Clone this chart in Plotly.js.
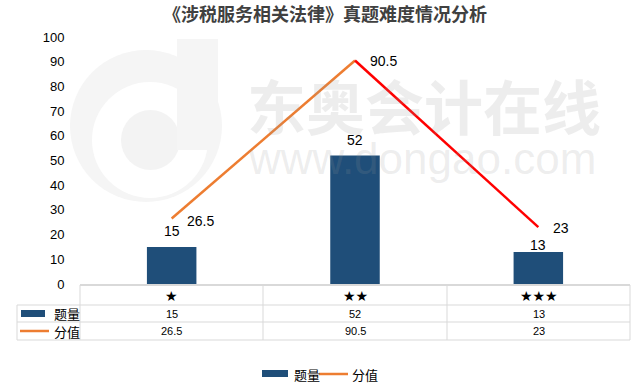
<!DOCTYPE html>
<html>
<head>
<meta charset="utf-8">
<script src="https://cdn.plot.ly/plotly-3.0.1.min.js"></script>
<style>html,body{margin:0;padding:0;background:#fff;}#chart{width:641px;height:387px;}</style>
</head>
<body>
<div id="chart"></div>
<script>
// ---- data ----
var categories = ['★', '★★', '★★★'];
var countLabel = '题量';
var scoreLabel = '分值';
var counts = [15, 52, 13];
var scores = [26.5, 90.5, 23];
var yTicks = [0, 10, 20, 30, 40, 50, 60, 70, 80, 90, 100];
var titleText = '《涉税服务相关法律》真题难度情况分析';

// ---- layout geometry (pixels) ----
var W = 641, H = 387;
var L = 80, R = 630, T = 37, B = 284;
function px(x) { return (x - L) / (R - L); }
function py(y) { return (B - y) / (B - T); }

var CN = '"Noto Sans CJK SC", "Noto Sans", sans-serif';
var NUM = '"Liberation Sans", Arial, sans-serif';
var blue = '#1F4E79', orange = '#ED7D31', red = '#FF0000', grid = '#D9D9D9';

var traces = [
  { type: 'bar', x: categories, y: counts, name: countLabel, marker: { color: blue }, width: 0.27, hoverinfo: 'skip' },
  { type: 'scatter', mode: 'lines', x: categories.slice(0, 2), y: scores.slice(0, 2), name: scoreLabel,
    line: { color: orange, width: 2.5 }, hoverinfo: 'skip' },
  { type: 'scatter', mode: 'lines', x: categories.slice(1, 3), y: scores.slice(1, 3), name: scoreLabel,
    line: { color: red, width: 2.5 }, hoverinfo: 'skip' }
];

var shapes = [];
var annotations = [];
var wm = 'rgba(150,150,150,0.17)';
// watermark logo
shapes.push({ type: 'circle', layer: 'below', xref: 'paper', yref: 'paper', x0: px(70), x1: px(222), y0: py(202), y1: py(50), fillcolor: '#F5F5F5', line: { width: 0 } });
shapes.push({ type: 'circle', layer: 'below', xref: 'paper', yref: 'paper', x0: px(92), x1: px(208), y0: py(198), y1: py(82), fillcolor: '#FFFFFF', line: { width: 0 } });
shapes.push({ type: 'circle', layer: 'below', xref: 'paper', yref: 'paper', x0: px(121), x1: px(180), y0: py(170), y1: py(110), fillcolor: '#F3F3F3', line: { width: 0 } });
shapes.push({ type: 'rect', layer: 'below', xref: 'paper', yref: 'paper', x0: px(177), x1: px(218), y0: py(150), y1: py(39), fillcolor: '#F5F5F5', line: { width: 0 } });
annotations.push({ xref: 'paper', yref: 'paper', x: px(424), y: py(104), text: '<b>东奥会计在线</b>', showarrow: false,
  font: { family: CN, size: 59, color: wm }, xanchor: 'center', yanchor: 'middle' });
annotations.push({ xref: 'paper', yref: 'paper', x: px(422), y: py(158), text: 'www.dongao.com', showarrow: false,
  font: { family: NUM, size: 44, color: wm }, xanchor: 'center', yanchor: 'middle' });

// data table
var colX = [L, 263, 447, R];
var rowY = [285, 305, 322, 340];
function hline(y, x0, x1, w) { shapes.push({ type: 'line', xref: 'paper', yref: 'paper', x0: px(x0), x1: px(x1), y0: py(y), y1: py(y), line: { color: grid, width: w } }); }
function vline(x, y0, y1) { shapes.push({ type: 'line', xref: 'paper', yref: 'paper', x0: px(x), x1: px(x), y0: py(y0), y1: py(y1), line: { color: grid, width: 1 } }); }
hline(rowY[0], L, R, 2);
hline(rowY[1], 17, R, 1);
hline(rowY[2], 17, R, 1);
hline(rowY[3], 17, R, 1);
colX.forEach(function (x) { vline(x, rowY[0], rowY[3]); });
vline(17, rowY[1], rowY[3]);
for (var i = 0; i < categories.length; i++) {
  var cx = (colX[i] + colX[i + 1]) / 2;
  annotations.push({ xref: 'paper', yref: 'paper', x: px(cx), y: py((rowY[0] + rowY[1]) / 2 + 1), text: categories[i], showarrow: false,
    font: { family: '"DejaVu Sans", sans-serif', size: 14, color: '#000' }, xanchor: 'center', yanchor: 'middle' });
  annotations.push({ xref: 'paper', yref: 'paper', x: px(cx), y: py((rowY[1] + rowY[2]) / 2), text: String(counts[i]), showarrow: false,
    font: { family: NUM, size: 11, color: '#000' }, xanchor: 'center', yanchor: 'middle' });
  annotations.push({ xref: 'paper', yref: 'paper', x: px(cx), y: py((rowY[2] + rowY[3]) / 2), text: String(scores[i]), showarrow: false,
    font: { family: NUM, size: 11, color: '#000' }, xanchor: 'center', yanchor: 'middle' });
}
// table row keys
shapes.push({ type: 'rect', xref: 'paper', yref: 'paper', x0: px(21), x1: px(45), y0: py(317), y1: py(310), fillcolor: blue, line: { width: 0 } });
shapes.push({ type: 'line', xref: 'paper', yref: 'paper', x0: px(20), x1: px(49), y0: py(331), y1: py(331), line: { color: orange, width: 2.5 } });
annotations.push({ xref: 'paper', yref: 'paper', x: px(52), y: py(313.5), text: countLabel, showarrow: false,
  font: { family: CN, size: 13, color: '#000' }, xanchor: 'left', yanchor: 'middle' });
annotations.push({ xref: 'paper', yref: 'paper', x: px(52), y: py(331), text: scoreLabel, showarrow: false,
  font: { family: CN, size: 13, color: '#000' }, xanchor: 'left', yanchor: 'middle' });

// bottom legend
shapes.push({ type: 'rect', xref: 'paper', yref: 'paper', x0: px(262), x1: px(288), y0: py(377), y1: py(370), fillcolor: blue, line: { width: 0 } });
shapes.push({ type: 'line', xref: 'paper', yref: 'paper', x0: px(319), x1: px(348), y0: py(374), y1: py(374), line: { color: orange, width: 2.5 } });
annotations.push({ xref: 'paper', yref: 'paper', x: px(292), y: py(374), text: countLabel, showarrow: false,
  font: { family: CN, size: 13, color: '#000' }, xanchor: 'left', yanchor: 'middle' });
annotations.push({ xref: 'paper', yref: 'paper', x: px(350), y: py(374), text: scoreLabel, showarrow: false,
  font: { family: CN, size: 13, color: '#000' }, xanchor: 'left', yanchor: 'middle' });

// data labels
var barShift = [16, 16, 7];
var lineDx = [29, 28, 23];
var lineDy = [-2, -1, -1];
for (var j = 0; j < categories.length; j++) {
  annotations.push({ x: categories[j], y: counts[j], xref: 'x', yref: 'y', text: String(counts[j]), showarrow: false,
    yshift: barShift[j], font: { family: NUM, size: 14, color: '#000' }, xanchor: 'center', yanchor: 'middle' });
  annotations.push({ x: categories[j], y: scores[j], xref: 'x', yref: 'y', text: String(scores[j]), showarrow: false,
    xshift: lineDx[j], yshift: lineDy[j], font: { family: NUM, size: 14, color: '#000' }, xanchor: 'center', yanchor: 'middle' });
}

var layout = {
  width: W, height: H,
  margin: { l: L, r: W - R, t: T, b: H - B, pad: 0 },
  paper_bgcolor: '#fff', plot_bgcolor: 'rgba(0,0,0,0)',
  showlegend: false,
  title: { text: titleText, x: 0.507, xanchor: 'center', y: 1 - 15 / H, yanchor: 'middle',
    font: { family: '"Noto Sans CJK SC", sans-serif', size: 18, color: '#404040', weight: 'bold' } },
  xaxis: { type: 'category', categoryorder: 'array', categoryarray: categories, showticklabels: false, showgrid: false,
    zeroline: false, showline: false, ticks: '', range: [-0.5, 2.5], fixedrange: true },
  yaxis: { range: [0, 100], tickvals: yTicks, ticktext: yTicks.map(String), showgrid: false, zeroline: false, showline: false,
    ticks: 'outside', ticklen: 12, tickcolor: 'rgba(0,0,0,0)', tickfont: { family: NUM, size: 13, color: '#000' }, fixedrange: true },
  bargap: 0.73,
  shapes: shapes,
  annotations: annotations
};

Plotly.newPlot('chart', traces, layout, { staticPlot: true, displayModeBar: false });
</script>
</body>
</html>
